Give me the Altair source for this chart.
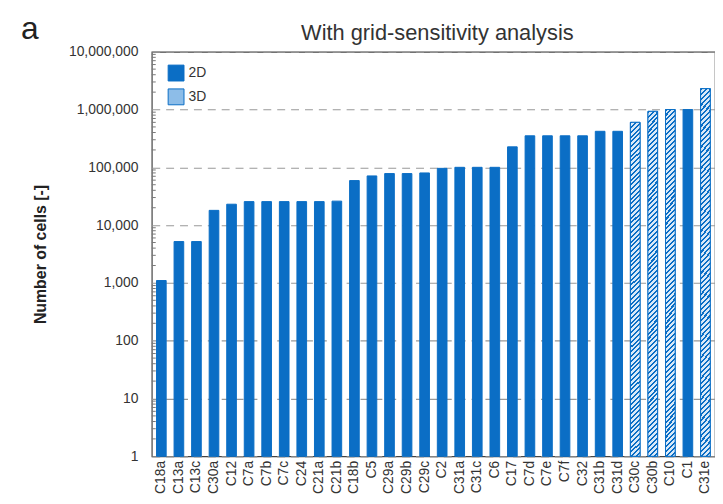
import altair as alt
import pandas as pd

cases = ["C18a", "C13a", "C13c", "C30a", "C12", "C7a", "C7b", "C7c", "C24", "C21a",
         "C21b", "C18b", "C5", "C29a", "C29b", "C29c", "C2", "C31a", "C31c", "C6",
         "C17", "C7d", "C7e", "C7f", "C32", "C31b", "C31d", "C30c", "C30b", "C10",
         "C1", "C31e"]
cells = [1100, 5200, 5200, 18000, 23000, 25500, 25500, 25500, 25500, 25500,
         26000, 59000, 71000, 78000, 78000, 80000, 96000, 100000, 100000, 100000,
         226000, 351000, 351000, 351000, 351000, 420000, 420000, 600000, 930000, 1000000,
         1000000, 2300000]
dims = ["2D"] * 27 + ["3D", "3D", "3D", "2D", "3D"]

major_ticks = [1, 10, 100, 1000, 10000, 100000, 1000000, 10000000]
minor_ticks = [m * d for d in [1, 10, 100, 1000, 10000, 100000, 1000000] for m in range(2, 10)]

df = pd.DataFrame({"case": cases, "cells": cells, "dim": dims})
df3 = df[df["dim"] == "3D"]
minor_df = pd.DataFrame({"v": minor_ticks})

W, H = 568, 408
BLUE = "#0b6ec5"
LIGHT = "#8dbde8"

# diagonal hatch approximated by a striped linear gradient (style only)
bw, bh = 10.0, 350.0
lam = (bw + bh) / (bw * bw + bh * bh)
N = 72
stops = []
for i in range(N):
    stops.append({"offset": i / N, "color": BLUE})
    stops.append({"offset": (i + 0.42) / N, "color": BLUE})
    stops.append({"offset": (i + 0.42) / N, "color": "#d9e9f8"})
    stops.append({"offset": (i + 1) / N, "color": "#d9e9f8"})
hatch = {"gradient": "linear", "x1": 0, "y1": 0, "x2": lam * bw, "y2": lam * bh,
         "stops": stops}

yscale = alt.Scale(type="log", domain=[1, 10000000], nice=False)
xscale = alt.Scale(paddingInner=0.45, paddingOuter=0.27)

bars = alt.Chart(df).mark_bar(strokeWidth=1).encode(
    x=alt.X("case:N", sort=cases, title=None, scale=xscale,
            axis=alt.Axis(labelAngle=-90, labelFontSize=14, labelColor="#333",
                          labelFont="Liberation Sans", ticks=False, labelPadding=4,
                          domain=False)),
    y=alt.Y("cells:Q", scale=yscale, title="Number of cells [-]",
            axis=alt.Axis(values=major_ticks, format=",", labelFontSize=14,
                          labelColor="#333", labelFont="Liberation Sans",
                          ticks=False, labelPadding=14, grid=True,
                          gridDash=[8, 6], gridColor="#999999", gridWidth=1.2,
                          domain=False, titleFontSize=16, titleFontWeight="bold",
                          titleFont="Liberation Sans", titleColor="#222",
                          titlePadding=20)),
    y2=alt.Y2(datum=1),
    fill=alt.Fill("dim:N", scale=alt.Scale(domain=["2D", "3D"], range=[BLUE, LIGHT]),
                  legend=alt.Legend(title=None, orient="none", legendX=16, legendY=13,
                                    symbolType="square", symbolSize=256,
                                    symbolStrokeColor=BLUE, symbolStrokeWidth=1,
                                    labelFontSize=14, labelFont="Liberation Sans",
                                    labelColor="#333", rowPadding=3, padding=0)),
    stroke=alt.value(BLUE),
)

bars3d = alt.Chart(df3).mark_bar(fill=hatch, stroke=BLUE, strokeWidth=1).encode(
    x=alt.X("case:N", sort=cases, scale=xscale),
    y=alt.Y("cells:Q", scale=yscale),
    y2=alt.Y2(datum=1),
)

minor = alt.Chart(minor_df).mark_rule(color="#777", strokeWidth=1).encode(
    y=alt.Y("v:Q", scale=yscale),
    x=alt.value(0),
    x2=alt.value(4),
)

panel = alt.Chart(pd.DataFrame({"t": ["a"]})).mark_text(
    fontSize=32, font="Liberation Sans", color="#222", baseline="alphabetic",
    align="center").encode(
    text="t:N", x=alt.value(-123), y=alt.value(-13))

title = alt.Chart(pd.DataFrame({"t": ["With grid-sensitivity analysis"]})).mark_text(
    fontSize=22, font="Liberation Sans", color="#333", baseline="alphabetic",
    align="center").encode(
    text="t:N", x=alt.value(W / 2 + 4), y=alt.value(-12))

chart = alt.layer(bars, bars3d, minor, panel, title).properties(
    width=W, height=H,
    autosize=alt.AutoSizeParams(type="none"),
    padding={"left": 145, "top": 42, "right": 0, "bottom": 46},
).configure_view(stroke="#444", strokeWidth=1.2)

chart.save("out.html", embed_options={"renderer": "svg", "actions": False})
